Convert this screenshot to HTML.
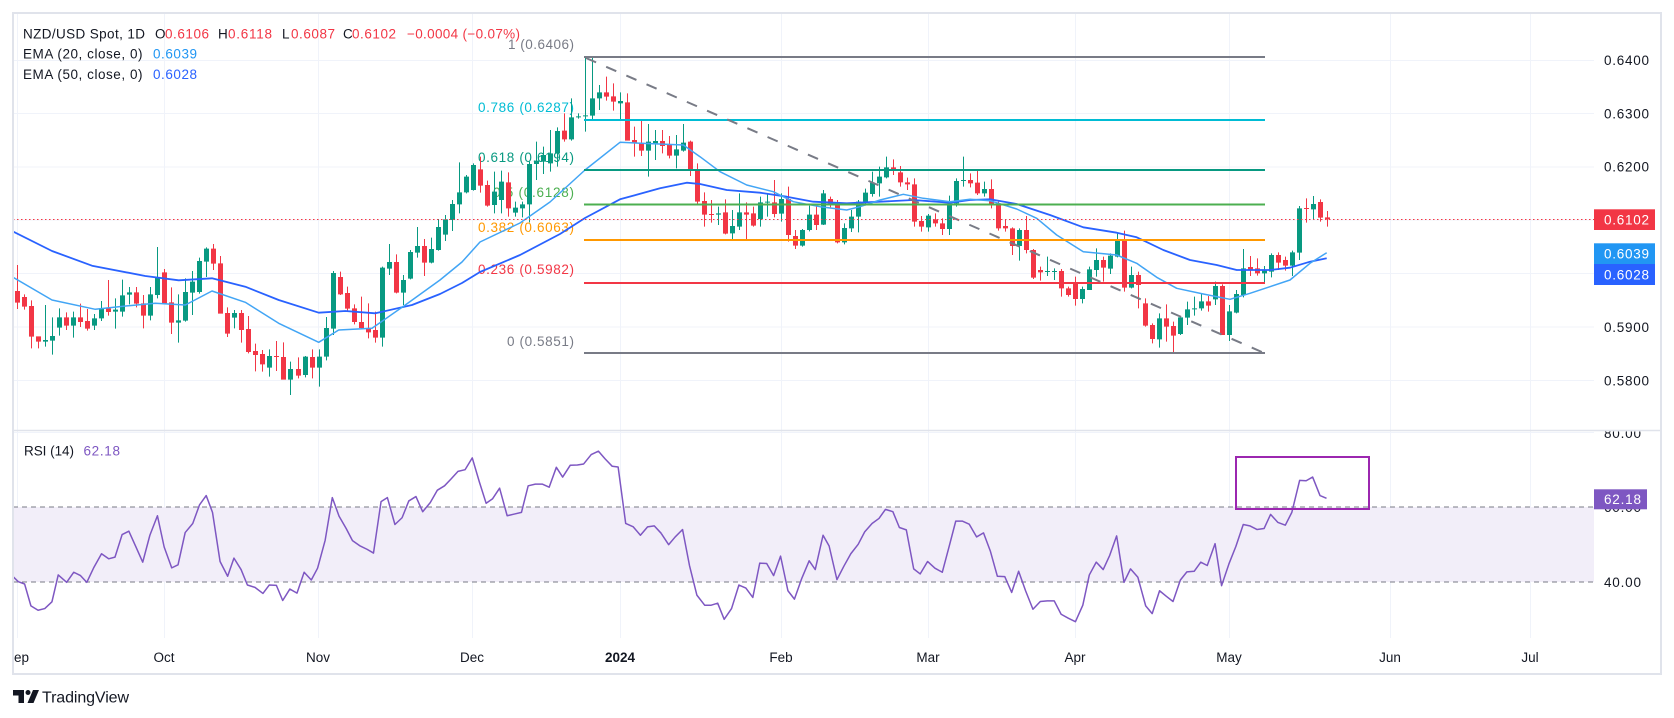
<!DOCTYPE html>
<html><head><meta charset="utf-8">
<style>
html,body{margin:0;padding:0;background:#fff;}
svg{display:block;}
text{font-family:"Liberation Sans",Arial,sans-serif;}
</style></head>
<body>
<svg width="1674" height="718" viewBox="0 0 1674 718" xmlns="http://www.w3.org/2000/svg">
<rect width="1674" height="718" fill="#fff"/>
<defs>
<clipPath id="cm"><rect x="13" y="14" width="1581" height="416"/></clipPath>
<clipPath id="cr"><rect x="13" y="431" width="1581" height="207"/></clipPath>
<clipPath id="cax"><rect x="1594" y="431.5" width="67" height="206"/></clipPath>
<clipPath id="ct"><rect x="14" y="638" width="1646" height="35"/></clipPath>
</defs>

<!-- grid -->
<g stroke="#f0f3fa" stroke-width="1">
<line x1="13" x2="1594" y1="60.5" y2="60.5"/>
<line x1="13" x2="1594" y1="113.5" y2="113.5"/>
<line x1="13" x2="1594" y1="167" y2="167"/>
<line x1="13" x2="1594" y1="220" y2="220"/>
<line x1="13" x2="1594" y1="273.5" y2="273.5"/>
<line x1="13" x2="1594" y1="327" y2="327"/>
<line x1="13" x2="1594" y1="380.5" y2="380.5"/>
<line x1="13" x2="1594" y1="432.5" y2="432.5"/>
<line x1="17.5" x2="17.5" y1="14" y2="638"/>
<line x1="164.5" x2="164.5" y1="14" y2="638"/>
<line x1="318.5" x2="318.5" y1="14" y2="638"/>
<line x1="472.5" x2="472.5" y1="14" y2="638"/>
<line x1="620.5" x2="620.5" y1="14" y2="638"/>
<line x1="781.5" x2="781.5" y1="14" y2="638"/>
<line x1="928.5" x2="928.5" y1="14" y2="638"/>
<line x1="1075.5" x2="1075.5" y1="14" y2="638"/>
<line x1="1229.5" x2="1229.5" y1="14" y2="638"/>
<line x1="1390.5" x2="1390.5" y1="14" y2="638"/>
<line x1="1530.5" x2="1530.5" y1="14" y2="638"/>
</g>

<!-- RSI band -->
<rect x="13" y="507" width="1581" height="75" fill="#f2eef9"/>
<g stroke="#787b86" stroke-width="1" stroke-dasharray="5 4">
<line x1="13" x2="1594" y1="507" y2="507"/>
<line x1="13" x2="1594" y1="582" y2="582"/>
</g>

<!-- Fib labels (behind candles) -->
<g font-size="13.5" text-anchor="end">
<text x="574" y="49" fill="#787b86" textLength="66">1 (0.6406)</text>
<text x="574" y="112" fill="#00bcd4" textLength="96">0.786 (0.6287)</text>
<text x="574" y="162" fill="#089981" textLength="96">0.618 (0.6194)</text>
<text x="574" y="197" fill="#4caf50" textLength="81">0.5 (0.6128)</text>
<text x="574" y="232" fill="#ff9800" textLength="96">0.382 (0.6063)</text>
<text x="574" y="274" fill="#f23645" textLength="96">0.236 (0.5982)</text>
<text x="574" y="346" fill="#787b86" textLength="67">0 (0.5851)</text>
</g>

<!-- candles -->
<g clip-path="url(#cm)">
<g transform="translate(0,215) scale(1,0.333333)">
<path fill="#089981" d="M45 270h1V395h-1z M43 375h5V380h-5z M52 307h1V419h-1z M50 363h5V377h-5z M59 280h1V362h-1z M57 307h5V338h-5z M73 290h1V368h-1z M71 307h5V332h-5z M94 297h1V345h-1z M92 310h5V332h-5z M101 258h1V318h-1z M99 280h5V310h-5z M115 250h1V341h-1z M113 284h5V290h-5z M122 194h1V305h-1z M120 241h5V290h-5z M129 216h1V268h-1z M127 232h5V239h-5z M150 216h1V316h-1z M148 238h5V302h-5z M157 96h1V250h-1z M155 186h5V240h-5z M178 238h1V383h-1z M176 316h5V323h-5z M185 190h1V320h-1z M183 231h5V317h-5z M192 168h1V300h-1z M190 200h5V233h-5z M199 128h1V236h-1z M197 138h5V231h-5z M206 97h1V186h-1z M204 101h5V140h-5z M234 285h1V340h-1z M232 294h5V308h-5z M269 403h1V485h-1z M267 423h5V458h-5z M290 440h1V540h-1z M288 462h5V494h-5z M305 423h1V487h-1z M303 425h5V480h-5z M319 403h1V515h-1z M317 425h5V458h-5z M326 306h1V436h-1z M324 339h5V425h-5z M333 168h1V360h-1z M331 174h5V341h-5z M382 155h1V395h-1z M380 158h5V368h-5z M389 87h1V180h-1z M387 141h5V161h-5z M403 180h1V270h-1z M401 195h5V233h-5z M410 105h1V193h-1z M408 111h5V191h-5z M417 36h1V128h-1z M415 93h5V113h-5z M431 68h1V145h-1z M429 102h5V143h-5z M438 12h1V107h-1z M436 36h5V105h-5z M445 0h1V78h-1z M443 13h5V59h-5z"/>
<path fill="#f23645" d="M17 150h1V282h-1z M15 228h5V263h-5z M24 238h1V284h-1z M22 246h5V275h-5z M31 256h1V400h-1z M29 273h5V365h-5z M38 364h1V400h-1z M36 364h5V380h-5z M66 292h1V345h-1z M64 307h5V332h-5z M80 266h1V336h-1z M78 307h5V321h-5z M87 282h1V347h-1z M85 318h5V341h-5z M108 195h1V302h-1z M106 280h5V291h-5z M136 216h1V277h-1z M134 232h5V266h-5z M143 240h1V340h-1z M141 265h5V302h-5z M164 162h1V268h-1z M162 172h5V265h-5z M171 217h1V357h-1z M169 262h5V323h-5z M213 87h1V165h-1z M211 101h5V146h-5z M220 123h1V296h-1z M218 145h5V296h-5z M227 277h1V366h-1z M225 294h5V356h-5z M241 285h1V383h-1z M239 294h5V345h-5z M248 303h1V415h-1z M246 342h5V411h-5z M255 386h1V469h-1z M253 408h5V420h-5z M262 405h1V470h-1z M260 417h5V448h-5z M276 378h1V468h-1z M274 423h5V426h-5z M283 382h1V494h-1z M281 426h5V494h-5z M298 427h1V490h-1z M296 462h5V482h-5z M312 403h1V490h-1z M310 426h5V458h-5z M340 170h1V240h-1z M338 186h5V238h-5z M347 215h1V288h-1z M345 234h5V281h-5z M354 268h1V328h-1z M352 280h5V321h-5z M361 245h1V341h-1z M359 321h5V339h-5z M368 265h1V370h-1z M366 340h5V352h-5z M375 290h1V383h-1z M373 345h5V368h-5z M396 118h1V235h-1z M394 141h5V233h-5z M424 72h1V183h-1z M422 93h5V143h-5z"/>
</g>
<g transform="translate(0,20) scale(1,0.333333)">
<path fill="#089981" d="M452 540h1V633h-1z M450 552h5V600h-5z M459 427h1V580h-1z M457 517h5V553h-5z M466 465h1V520h-1z M464 470h5V517h-5z M473 430h1V512h-1z M471 435h5V510h-5z M494 455h1V580h-1z M492 515h5V555h-5z M501 452h1V580h-1z M499 485h5V540h-5z M515 545h1V590h-1z M513 563h5V578h-5z M522 545h1V592h-1z M520 553h5V565h-5z M529 425h1V607h-1z M527 432h5V553h-5z M536 365h1V480h-1z M534 422h5V432h-5z M543 380h1V462h-1z M541 405h5V425h-5z M550 330h1V455h-1z M548 400h5V430h-5z M557 322h1V440h-1z M555 333h5V400h-5z"/>
<path fill="#f23645" d="M480 410h1V518h-1z M478 448h5V497h-5z M487 482h1V560h-1z M485 495h5V557h-5z M508 457h1V590h-1z M506 487h5V565h-5z"/>
</g>
<g transform="translate(0,50) scale(1,0.333333)">
<path fill="#089981" d="M571 145h1V272h-1z M569 202h5V268h-5z M578 190h1V206h-1z M576 199h5V202h-5z M585 20h1V245h-1z M583 196h5V199h-5z M592 18h1V207h-1z M590 145h5V197h-5z M599 105h1V180h-1z M597 127h5V145h-5z M620 127h1V213h-1z M618 153h5V160h-5z M648 222h1V380h-1z M646 275h5V302h-5z M655 240h1V330h-1z M653 273h5V280h-5z M676 255h1V355h-1z M674 298h5V317h-5z M683 222h1V305h-1z M681 278h5V302h-5z M718 470h1V525h-1z M716 490h5V494h-5z M732 480h1V567h-1z M730 528h5V550h-5z M739 430h1V540h-1z M737 487h5V530h-5z M760 440h1V530h-1z M758 457h5V507h-5z M767 430h1V500h-1z M765 455h5V458h-5z M781 430h1V515h-1z M779 447h5V491h-5z M802 537h1V590h-1z M800 540h5V587h-5z M809 467h1V544h-1z M807 494h5V540h-5z M823 420h1V525h-1z M821 430h5V524h-5z M844 520h1V583h-1z M842 534h5V577h-5z M851 480h1V546h-1z M849 500h5V535h-5z M858 450h1V547h-1z M856 455h5V500h-5z M865 416h1V467h-1z M863 428h5V455h-5z M872 365h1V440h-1z M870 398h5V432h-5z M879 350h1V440h-1z M877 380h5V400h-5z M886 320h1V385h-1z M884 352h5V382h-5z M928 492h1V545h-1z M926 497h5V532h-5z M949 437h1V555h-1z M947 460h5V537h-5z M956 385h1V470h-1z M954 393h5V460h-5z"/>
<path fill="#f23645" d="M564 190h1V275h-1z M562 242h5V268h-5z M606 80h1V152h-1z M604 127h5V140h-5z M613 100h1V182h-1z M611 139h5V155h-5z M627 130h1V272h-1z M625 157h5V272h-5z M634 230h1V320h-1z M632 270h5V280h-5z M641 212h1V318h-1z M639 280h5V302h-5z M662 240h1V310h-1z M660 273h5V288h-5z M669 258h1V325h-1z M667 284h5V317h-5z M690 272h1V378h-1z M688 275h5V360h-5z M697 340h1V465h-1z M695 358h5V455h-5z M704 427h1V530h-1z M702 453h5V494h-5z M711 450h1V518h-1z M709 492h5V495h-5z M725 448h1V553h-1z M723 487h5V551h-5z M746 457h1V572h-1z M744 487h5V494h-5z M753 470h1V530h-1z M751 490h5V527h-5z M774 390h1V502h-1z M772 457h5V492h-5z M788 410h1V575h-1z M786 447h5V555h-5z M795 540h1V597h-1z M793 558h5V587h-5z M816 465h1V540h-1z M814 494h5V525h-5z M830 440h1V472h-1z M828 447h5V460h-5z M837 450h1V580h-1z M835 457h5V577h-5z M893 328h1V375h-1z M891 352h5V358h-5z M900 348h1V410h-1z M898 367h5V397h-5z M907 383h1V420h-1z M905 397h5V403h-5z M914 385h1V530h-1z M912 403h5V515h-5z M921 498h1V545h-1z M919 513h5V530h-5z M935 490h1V530h-1z M933 508h5V520h-5z M942 505h1V555h-1z M940 520h5V537h-5z"/>
</g>
<g transform="translate(0,140) scale(1,0.333333)">
<path fill="#089981" d="M963 50h1V140h-1z M961 120h5V123h-5z M984 125h1V170h-1z M982 147h5V160h-5z M1019 265h1V362h-1z M1017 270h5V318h-5z M1047 350h1V408h-1z M1045 393h5V396h-5z M1054 385h1V420h-1z M1052 393h5V396h-5z M1082 440h1V490h-1z M1080 447h5V477h-5z M1089 380h1V450h-1z M1087 388h5V450h-5z M1096 325h1V410h-1z M1094 360h5V390h-5z M1110 340h1V402h-1z M1108 347h5V386h-5z M1117 277h1V352h-1z M1115 303h5V350h-5z M1131 380h1V445h-1z M1129 405h5V443h-5z M1159 520h1V623h-1z M1157 535h5V598h-5z M1180 530h1V585h-1z M1178 532h5V582h-5z M1187 485h1V555h-1z M1185 508h5V533h-5z M1194 470h1V527h-1z M1192 505h5V508h-5z M1201 462h1V512h-1z M1199 484h5V505h-5z M1215 425h1V495h-1z M1213 438h5V478h-5z M1229 495h1V603h-1z M1227 514h5V585h-5z M1236 450h1V520h-1z M1234 462h5V518h-5z M1243 327h1V472h-1z M1241 385h5V465h-5z M1264 378h1V430h-1z M1262 392h5V400h-5z M1271 340h1V412h-1z M1269 345h5V395h-5z M1292 332h1V408h-1z M1290 337h5V377h-5z M1299 198h1V360h-1z M1297 205h5V338h-5z M1313 168h1V238h-1z M1311 192h5V208h-5z"/>
<path fill="#f23645" d="M970 100h1V142h-1z M968 120h5V130h-5z M977 92h1V165h-1z M975 128h5V160h-5z M991 118h1V205h-1z M989 147h5V195h-5z M998 185h1V272h-1z M996 190h5V265h-5z M1005 240h1V275h-1z M1003 258h5V265h-5z M1012 262h1V345h-1z M1010 265h5V318h-5z M1026 228h1V340h-1z M1024 270h5V330h-5z M1033 327h1V417h-1z M1031 330h5V413h-5z M1040 380h1V422h-1z M1038 390h5V397h-5z M1061 387h1V470h-1z M1059 393h5V445h-5z M1068 440h1V470h-1z M1066 445h5V465h-5z M1075 410h1V497h-1z M1073 430h5V477h-5z M1103 350h1V425h-1z M1101 360h5V383h-5z M1124 272h1V455h-1z M1122 302h5V443h-5z M1138 395h1V505h-1z M1136 405h5V435h-5z M1145 475h1V560h-1z M1143 490h5V557h-5z M1152 550h1V610h-1z M1150 555h5V597h-5z M1166 493h1V605h-1z M1164 535h5V560h-5z M1173 545h1V640h-1z M1171 558h5V587h-5z M1208 468h1V515h-1z M1206 484h5V497h-5z M1222 433h1V585h-1z M1220 438h5V585h-5z M1250 348h1V408h-1z M1248 381h5V390h-5z M1257 355h1V407h-1z M1255 385h5V400h-5z M1278 337h1V390h-1z M1276 345h5V368h-5z M1285 350h1V392h-1z M1283 360h5V377h-5z M1306 175h1V248h-1z M1304 204h5V207h-5z M1320 178h1V245h-1z M1318 186h5V233h-5z M1327 213h1V260h-1z M1325 232h5V238h-5z"/>
</g>
</g>

<!-- EMAs -->
<g clip-path="url(#cm)" fill="none" stroke-linejoin="round">
<polyline stroke="#2962ff" stroke-width="1.8" points="12,231 52,251 92,265.7 145.3,276 178.7,280.3 212,278.3 245.3,286.7 278.7,300 318.7,312.7 345.3,311 375.3,313.3 412,305 440,294 462,283 480,272 520,255 560,234 585,218 620,199.3 660,188.3 686.7,182.7 700,184 726.7,190 760,192.7 786.7,196.7 813.3,201.7 846.7,203.3 880,201.7 913.3,200 950,202.7 970,200 990,199.3 1016.7,204 1050,215 1083.3,227.3 1116.7,232.7 1136.7,237.3 1163.3,250 1190,260 1216.7,265 1236.7,270 1270,270 1290,267.7 1310,261.7 1326.7,258.3"/>
<polyline stroke="#42a5f5" stroke-width="1.5" points="12,276.7 52,300 95.3,309.3 128.7,305.7 155.3,303.3 185.3,305 212,291 245.3,302.3 278.7,323.3 318.7,342.3 338.7,330 372,328.3 405.3,305 440,280 462,262 480,242 520,223 550,202 585,170 620,142.3 683.3,145 700,156.7 720,171.7 746.7,185 773.3,191.7 793.3,201.7 820,206.7 846.7,210 860,206.7 880,200 903.3,194.3 923.3,198.3 950,201.7 970,199.3 990,200.7 1016.7,209 1036.7,218.3 1056.7,235 1083.3,251.7 1116.7,255 1136.7,263.3 1156.7,277.3 1176.7,288.3 1203.3,294 1230,299.3 1250,293.3 1270,286.7 1290,280 1310,263.3 1326.7,252.7"/>
</g>

<!-- Fibonacci lines -->
<g stroke-width="2">
<line x1="584" x2="1265" y1="57" y2="57" stroke="#787b86"/>
<line x1="584" x2="1265" y1="120" y2="120" stroke="#00bcd4"/>
<line x1="584" x2="1265" y1="170" y2="170" stroke="#089981"/>
<line x1="584" x2="1265" y1="204.5" y2="204.5" stroke="#4caf50"/>
<line x1="584" x2="1265" y1="240" y2="240" stroke="#ff9800"/>
<line x1="584" x2="1265" y1="283" y2="283" stroke="#f23645"/>
<line x1="584" x2="1265" y1="353" y2="353" stroke="#787b86"/>
</g>
<line x1="586" y1="58" x2="1263" y2="352.5" stroke="#787b86" stroke-width="2" stroke-dasharray="11 11"/>

<!-- price line -->
<line x1="13" x2="1594" y1="219.5" y2="219.5" stroke="#f23645" stroke-width="1" stroke-dasharray="1.5 2.5"/>

<!-- RSI -->
<g clip-path="url(#cr)" fill="none" stroke="#7e57c2" stroke-width="1.5" stroke-linejoin="round">
<polyline vector-effect="non-scaling-stroke" transform="translate(12,424.27) scale(0.42034,0.3363)" points="0,450 15,468 30,475 45,540 62,553 78,548 95,528 110,448 130,470 147,440 163,450 178,470 195,425 213,385 230,400 245,395 262,328 278,318 295,365 311,410 328,330 346,272 362,365 380,427 395,418 412,322 430,295 446,240 462,212 477,262 495,408 513,452 528,398 545,432 560,478 578,485 597,503 612,478 629,479 644,524 661,490 678,502 695,440 712,463 727,428 745,345 762,218 778,273 795,310 810,346 827,361 845,372 860,383 878,230 893,218 911,298 928,278 944,228 961,215 977,260 995,233 1012,196 1029,183 1045,162 1061,140 1078,135 1095,100 1112,172 1128,235 1143,222 1160,190 1178,272 1195,267 1212,262 1228,183 1245,178 1262,178 1278,187 1295,128 1310,157 1328,122 1345,121 1360,118 1378,90 1395,80 1411,103 1428,125 1442,127 1460,295 1478,305 1495,330 1512,305 1528,302 1545,325"/>
<polyline vector-effect="non-scaling-stroke" transform="translate(660,424.27) scale(0.43365,0.3363)" points="3,325 20,358 35,335 52,313 68,420 85,508 103,538 118,538 133,532 148,580 165,548 182,478 198,487 214,515 230,413 246,414 262,450 278,392 295,495 310,520 327,458 344,406 358,432 376,330 390,362 408,462 424,422 440,385 457,357 472,320 489,295 505,280 520,253 537,260 552,307 568,314 585,430 600,445 617,408 634,428 651,440 667,362 682,288 697,288 713,297 730,335 746,323 762,378 778,452 795,453 811,500 827,437 843,495 860,550 877,527 893,525 909,525 925,565 942,577 958,587 975,538 990,448 1006,410 1022,432 1037,390 1053,332 1070,470 1085,430 1102,455 1120,540 1135,563 1152,495 1168,512 1183,527 1200,463 1215,439 1232,437 1247,410 1262,420 1280,355 1295,480 1312,415 1328,363 1345,298 1360,302 1377,313 1393,310 1408,268 1425,292 1442,300 1457,262 1475,167 1490,168 1505,157 1522,212 1537,220"/>
</g>
<rect x="1236" y="457" width="133" height="52" fill="none" stroke="#9c27b0" stroke-width="2"/>

<!-- frame -->
<rect x="13" y="13" width="1648" height="661" fill="none" stroke="#e0e3eb" stroke-width="2"/>
<line x1="13" x2="1661" y1="430.5" y2="430.5" stroke="#e0e3eb" stroke-width="1.5"/>

<!-- legend -->
<g font-size="13.5" fill="#131722">
<text x="23" y="38.5" textLength="122">NZD/USD Spot, 1D</text>
<text x="155" y="38.5">O</text>
<text x="165" y="38.5" fill="#f23645" textLength="44">0.6106</text>
<text x="218" y="38.5">H</text>
<text x="228" y="38.5" fill="#f23645" textLength="44">0.6118</text>
<text x="282" y="38.5">L</text>
<text x="291" y="38.5" fill="#f23645" textLength="44">0.6087</text>
<text x="343" y="38.5">C</text>
<text x="352" y="38.5" fill="#f23645" textLength="44">0.6102</text>
<text x="407" y="38.5" fill="#f23645" textLength="113">−0.0004 (−0.07%)</text>
<text x="23" y="58.5" textLength="119.5">EMA (20, close, 0)</text>
<text x="153" y="58.5" fill="#2196f3" textLength="44">0.6039</text>
<text x="23" y="79" textLength="119.5">EMA (50, close, 0)</text>
<text x="153" y="79" fill="#2962ff" textLength="44">0.6028</text>
<text x="24" y="455.5" textLength="50">RSI (14)</text>
<text x="83.5" y="455.5" fill="#7e57c2" textLength="36.5">62.18</text>
</g>

<!-- price axis -->
<g font-size="13.5" fill="#131722">
<text x="1604" y="65" textLength="45">0.6400</text>
<text x="1604" y="118.3" textLength="45">0.6300</text>
<text x="1604" y="171.7" textLength="45">0.6200</text>
<text x="1604" y="332" textLength="45">0.5900</text>
<text x="1604" y="385.3" textLength="45">0.5800</text>
<g clip-path="url(#cax)">
<text x="1604" y="438" textLength="37">80.00</text>
<text x="1604" y="512" textLength="37">60.00</text>
<text x="1604" y="587" textLength="37">40.00</text>
</g>
</g>
<rect x="1594" y="209.3" width="61" height="20.7" fill="#f23645"/>
<rect x="1594" y="243.3" width="61" height="20.7" fill="#2196f3"/>
<rect x="1594" y="264" width="61" height="21" fill="#2962ff"/>
<rect x="1594" y="489.3" width="53" height="20" fill="#7e57c2"/>
<g font-size="13.5" fill="#ffffff">
<text x="1604" y="224.5" textLength="45">0.6102</text>
<text x="1604" y="258.5" textLength="45">0.6039</text>
<text x="1604" y="279.5" textLength="45">0.6028</text>
<text x="1604" y="504" textLength="37">62.18</text>
</g>

<!-- time axis -->
<g font-size="13.5" fill="#131722" text-anchor="middle" clip-path="url(#ct)">
<text x="17" y="662">Sep</text>
<text x="164" y="662">Oct</text>
<text x="318" y="662">Nov</text>
<text x="472" y="662">Dec</text>
<text x="620" y="662" font-weight="bold">2024</text>
<text x="781" y="662">Feb</text>
<text x="928" y="662">Mar</text>
<text x="1075" y="662">Apr</text>
<text x="1229" y="662">May</text>
<text x="1390" y="662">Jun</text>
<text x="1530" y="662">Jul</text>
</g>

<!-- logo -->
<g fill="#131722">
<path d="M13 690h11v13h-5.5v-7.5H13z"/>
<circle cx="28" cy="692.5" r="2.5"/>
<path d="M33 690h6l-5.5 13h-6z"/>
<text x="42" y="702.5" font-size="16" textLength="87">TradingView</text>
</g>
</svg>
</body></html>
